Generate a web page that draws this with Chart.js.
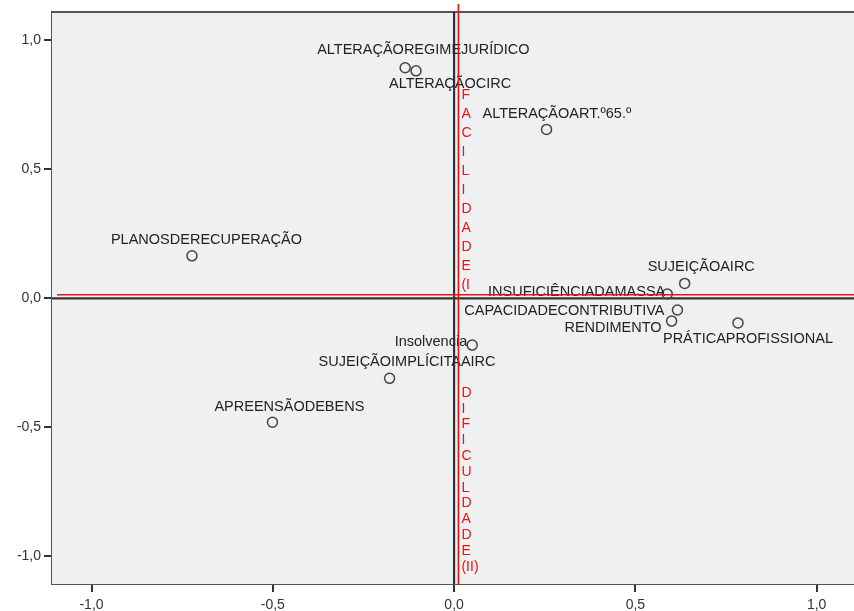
<!DOCTYPE html>
<html>
<head>
<meta charset="utf-8">
<script src="https://cdn.jsdelivr.net/npm/chart.js@4/dist/chart.umd.min.js"></script>
<style>
  html, body { margin: 0; padding: 0; background: #fff; }
  #wrap { width: 854px; height: 611px; position: relative; }
</style>
</head>
<body>
<div id="wrap"><canvas id="chart"></canvas></div>
<script>
// --- dados (dimensão 1 = eixo x, dimensão 2 = eixo y) ---
const pointLabels = [
  'ALTERAÇÃOREGIMEJURÍDICO',
  'ALTERAÇÃOCIRC',
  'ALTERAÇÃOART.º65.º',
  'PLANOSDERECUPERAÇÃO',
  'SUJEIÇÃOAIRC',
  'INSUFICIÊNCIADAMASSA',
  'CAPACIDADECONTRIBUTIVA',
  'RENDIMENTO',
  'PRÁTICAPROFISSIONAL',
  'Insolvencia',
  'SUJEIÇÃOIMPLÍCITAAIRC',
  'APREENSÃODEBENS'
];
const dimension1 = [-0.135, -0.105, 0.255, -0.723, 0.636, 0.588, 0.616, 0.600, 0.783, 0.050, -0.178, -0.501];
const dimension2 = [0.894, 0.882, 0.655, 0.165, 0.058, 0.017, -0.045, -0.088, -0.095, -0.181, -0.310, -0.480];

const xTickValues = [-1.0, -0.5, 0.0, 0.5, 1.0];
const yTickValues = [-1.0, -0.5, 0.0, 0.5, 1.0];

// linhas e texto vermelhos (anotação do autor)
const redLineX = 0.012;
const redLineY = 0.014;
const upperLetters = ['F', 'A', 'C', 'I', 'L', 'I', 'D', 'A', 'D', 'E', '(I'];
const lowerLetters = ['D', 'I', 'F', 'I', 'C', 'U', 'L', 'D', 'A', 'D', 'E', '(II)'];

// posição dos rótulos relativamente ao ponto
const labelPlacement = [
  { align: 'left', dx: -88, dy: -18 },
  { align: 'left', dx: -27, dy: 13 },
  { align: 'left', dx: -64, dy: -15 },
  { align: 'left', dx: -81, dy: -16 },
  { align: 'left', dx: -37, dy: -16 },
  { align: 'right', dx: -2, dy: -2 },
  { align: 'right', dx: -13, dy: 1 },
  { align: 'right', dx: -10, dy: 7 },
  { align: 'left', dx: -75, dy: 16 },
  { align: 'right', dx: -5, dy: -3 },
  { align: 'left', dx: -71, dy: -16 },
  { align: 'left', dx: -58, dy: -15 }
];

const FONT = '"Liberation Sans", Arial, sans-serif';

const points = dimension1.map((x, i) => ({ x, y: dimension2[i] }));

const fmt = v => v.toFixed(1).replace('.', ',');

// fundo cinzento + moldura + linhas de referência em 0
const frame = {
  id: 'frame',
  beforeDatasetsDraw(chart) {
    const { ctx, chartArea: a, scales } = chart;
    ctx.save();
    ctx.fillStyle = '#eff0f2';
    ctx.fillRect(a.left, a.top, a.right - a.left, a.bottom - a.top);
    ctx.strokeStyle = '#555';
    ctx.lineWidth = 2;
    ctx.beginPath();
    ctx.moveTo(a.left, a.top);
    ctx.lineTo(a.right, a.top);
    ctx.stroke();
    // linhas de referência (0)
    const x0 = scales.x.getPixelForValue(0);
    const y0 = scales.y.getPixelForValue(0);
    ctx.strokeStyle = '#333';
    ctx.lineWidth = 2.2;
    ctx.beginPath();
    ctx.moveTo(x0, a.top);
    ctx.lineTo(x0, a.bottom);
    ctx.moveTo(a.left, y0);
    ctx.lineTo(a.right, y0);
    ctx.stroke();
    ctx.restore();
  }
};

// rótulos dos pontos
const pointText = {
  id: 'pointText',
  afterDatasetsDraw(chart) {
    const { ctx } = chart;
    const meta = chart.getDatasetMeta(0);
    ctx.save();
    ctx.font = '14.5px ' + FONT;
    ctx.fillStyle = '#222';
    ctx.textBaseline = 'middle';
    meta.data.forEach((el, i) => {
      const p = labelPlacement[i];
      ctx.textAlign = p.align;
      ctx.fillText(pointLabels[i], el.x + p.dx, el.y + p.dy);
    });
    ctx.restore();
  }
};

// anotação vermelha por cima de tudo
const redNotes = {
  id: 'redNotes',
  afterDraw(chart) {
    const { ctx, chartArea: a, scales } = chart;
    const rx = scales.x.getPixelForValue(redLineX);
    const ry = scales.y.getPixelForValue(redLineY);
    ctx.save();
    ctx.strokeStyle = '#ee1111';
    ctx.lineWidth = 1.6;
    ctx.beginPath();
    ctx.moveTo(rx, 4);
    ctx.lineTo(rx, a.bottom);
    ctx.moveTo(a.left + 5, ry);
    ctx.lineTo(a.right, ry);
    ctx.stroke();

    ctx.fillStyle = '#ee1111';
    ctx.font = '14px ' + FONT;
    ctx.textAlign = 'left';
    ctx.textBaseline = 'middle';
    upperLetters.forEach((ch, i) => ctx.fillText(ch, rx + 3, 95 + i * 19));
    lowerLetters.forEach((ch, i) => ctx.fillText(ch, rx + 3, 393 + i * 15.8));
    ctx.restore();
  }
};

new Chart(document.getElementById('chart'), {
  type: 'scatter',
  data: {
    datasets: [{
      data: points,
      pointStyle: 'circle',
      pointRadius: 5,
      pointHoverRadius: 5,
      pointBackgroundColor: 'rgba(0,0,0,0)',
      pointBorderColor: '#444',
      pointBorderWidth: 1.5
    }]
  },
  options: {
    responsive: true,
    maintainAspectRatio: false,
    animation: false,
    layout: { autoPadding: false, padding: { top: 12, right: 0, left: 0, bottom: 0 } },
    plugins: {
      legend: { display: false },
      tooltip: { enabled: false }
    },
    scales: {
      x: {
        type: 'linear',
        min: -1.109,
        max: 1.103,
        afterBuildTicks: s => { s.ticks = xTickValues.map(v => ({ value: v })); },
        afterFit: s => { s.height = 27; s.paddingLeft = 0; s.paddingRight = 0; },
        ticks: {
          callback: v => fmt(v),
          color: '#333',
          font: { family: FONT, size: 14 },
          padding: 5,
          maxRotation: 0
        },
        grid: { drawOnChartArea: false, drawTicks: true, tickLength: 8, color: '#333', lineWidth: 2 },
        border: { display: true, color: '#555', width: 2 }
      },
      y: {
        type: 'linear',
        min: -1.107,
        max: 1.11,
        afterBuildTicks: s => { s.ticks = yTickValues.map(v => ({ value: v })); },
        afterFit: s => { s.width = 52; s.paddingTop = 0; s.paddingBottom = 0; },
        ticks: {
          callback: v => fmt(v),
          color: '#333',
          font: { family: FONT, size: 14 },
          padding: 3
        },
        grid: { drawOnChartArea: false, drawTicks: true, tickLength: 8, color: '#333', lineWidth: 2 },
        border: { display: true, color: '#555', width: 2 }
      }
    }
  },
  plugins: [frame, pointText, redNotes]
});
</script>
</body>
</html>
